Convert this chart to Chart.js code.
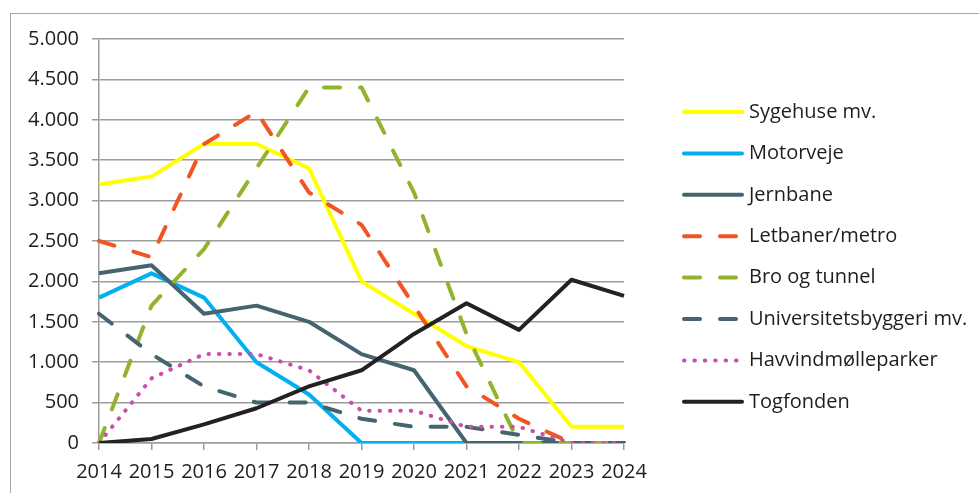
<!DOCTYPE html>
<html>
<head>
<meta charset="utf-8">
<script src="https://cdn.jsdelivr.net/npm/chart.js@4"></script>
<style>
  html, body { margin: 0; padding: 0; background: #fff; }
  #wrap { position: relative; width: 979px; height: 493px; overflow: hidden; }
  #frame { position: absolute; left: 10px; top: 13px; width: 1000px; height: 520px; border: 1.5px solid #a6a6a6; }
  #chart { position: absolute; left: 0; top: 0; }
</style>
</head>
<body>
<div id="wrap">
  <div id="frame"></div>
  <canvas id="chart" width="979" height="493"></canvas>
</div>
<script>
// Data
const years = ['2014', '2015', '2016', '2017', '2018', '2019', '2020', '2021', '2022', '2023', '2024'];
const yTickLabels = ['0', '500', '1.000', '1.500', '2.000', '2.500', '3.000', '3.500', '4.000', '4.500', '5.000'];

const sygehuse    = [3200, 3300, 3700, 3700, 3400, 2000, 1600, 1200, 1000, 200, 200];
const motorveje   = [1800, 2100, 1800, 1000, 600, 0, 0, 0, 0, 0, 0];
const jernbane    = [2100, 2200, 1600, 1700, 1500, 1100, 900, 0, 0, 0, 0];
const letbaner    = [2500, 2300, 3700, 4100, 3100, 2700, 1700, 700, 300, 0, 0];
const broOgTunnel = [0, 1700, 2400, 3400, 4400, 4400, 3100, 1350, 0, 0, 0];
const universitet = [1600, 1100, 700, 500, 500, 300, 200, 200, 100, 0, 0];
const havvind     = [0, 800, 1100, 1100, 900, 400, 400, 200, 200, 0, 0];
const togfonden   = [0, 50, 230, 430, 700, 900, 1350, 1730, 1400, 2020, 1820];

const seriesNames = ['Sygehuse mv.', 'Motorveje', 'Jernbane', 'Letbaner/metro', 'Bro og tunnel',
  'Universitetsbyggeri mv.', 'Havvindmølleparker', 'Togfonden'];

const FONT = '"Open Sans", sans-serif';
const TEXT = '#1e1e1e';
const GRID = '#9c9c9c';
const LONG_DASH = [16, 20];
const DOTS = [0.5, 9.9];

function series(label, data, color, dash) {
  return {
    label, data,
    borderColor: color,
    backgroundColor: color,
    borderWidth: 4,
    borderDash: dash || [],
    borderCapStyle: dash ? 'round' : 'butt',
    borderJoinStyle: 'round',
    pointRadius: 0,
    pointHoverRadius: 0,
    tension: 0,
    fill: false
  };
}

const datasets = [
  series(seriesNames[0], sygehuse, '#ffff00'),
  series(seriesNames[1], motorveje, '#00b0f0'),
  series(seriesNames[2], jernbane, '#456470'),
  series(seriesNames[3], letbaner, '#f25424', LONG_DASH),
  series(seriesNames[4], broOgTunnel, '#92b42c', LONG_DASH),
  series(seriesNames[5], universitet, '#456470', LONG_DASH),
  series(seriesNames[6], havvind, '#c94fae', DOTS),
  series(seriesNames[7], togfonden, '#222222')
];
// Excel draws later series on top
datasets.forEach((d, i) => { d.order = datasets.length - i; });

// Legend on the right, drawn like the Excel one
const sideLegend = {
  id: 'sideLegend',
  afterDraw(chart) {
    const ctx = chart.ctx;
    const x0 = 684, x1 = 742, textX = 749, top = 112, step = 41.4;
    chart.data.datasets.forEach((ds, i) => {
      const y = top + i * step;
      ctx.save();
      ctx.strokeStyle = ds.borderColor;
      ctx.lineWidth = ds.borderWidth;
      ctx.lineCap = 'round';
      ctx.setLineDash(ds.borderDash);
      ctx.beginPath();
      ctx.moveTo(x0, y);
      ctx.lineTo(x1, y);
      ctx.stroke();
      ctx.restore();
      ctx.save();
      ctx.fillStyle = TEXT;
      ctx.font = '20px ' + FONT;
      ctx.textBaseline = 'middle';
      ctx.fillText(ds.label, textX, y);
      ctx.restore();
    });
  }
};

new Chart(document.getElementById('chart'), {
  type: 'line',
  data: { labels: years, datasets },
  options: {
    responsive: false,
    animation: false,
    devicePixelRatio: 1,
    layout: { padding: { left: 0, right: 355, top: 39, bottom: 0 } },
    plugins: {
      legend: { display: false },
      tooltip: { enabled: false }
    },
    scales: {
      x: {
        offset: false,
        grid: { drawOnChartArea: false, drawTicks: true, tickLength: 7, color: GRID, lineWidth: 1.5 },
        border: { color: GRID, width: 1.5 },
        ticks: { color: TEXT, font: { family: FONT, size: 20 }, padding: 10, maxRotation: 0, autoSkip: false },
        afterFit(scale) { scale.height = 50; }
      },
      y: {
        min: 0,
        max: 5000,
        grid: { color: GRID, lineWidth: 1.5, tickLength: 7 },
        border: { color: GRID, width: 1.5 },
        ticks: {
          stepSize: 500,
          color: TEXT,
          font: { family: FONT, size: 20 },
          padding: 13,
          callback: (value, index) => yTickLabels[index]
        },
        afterFit(scale) { scale.width = 99; }
      }
    }
  },
  plugins: [sideLegend]
});
</script>
</body>
</html>
